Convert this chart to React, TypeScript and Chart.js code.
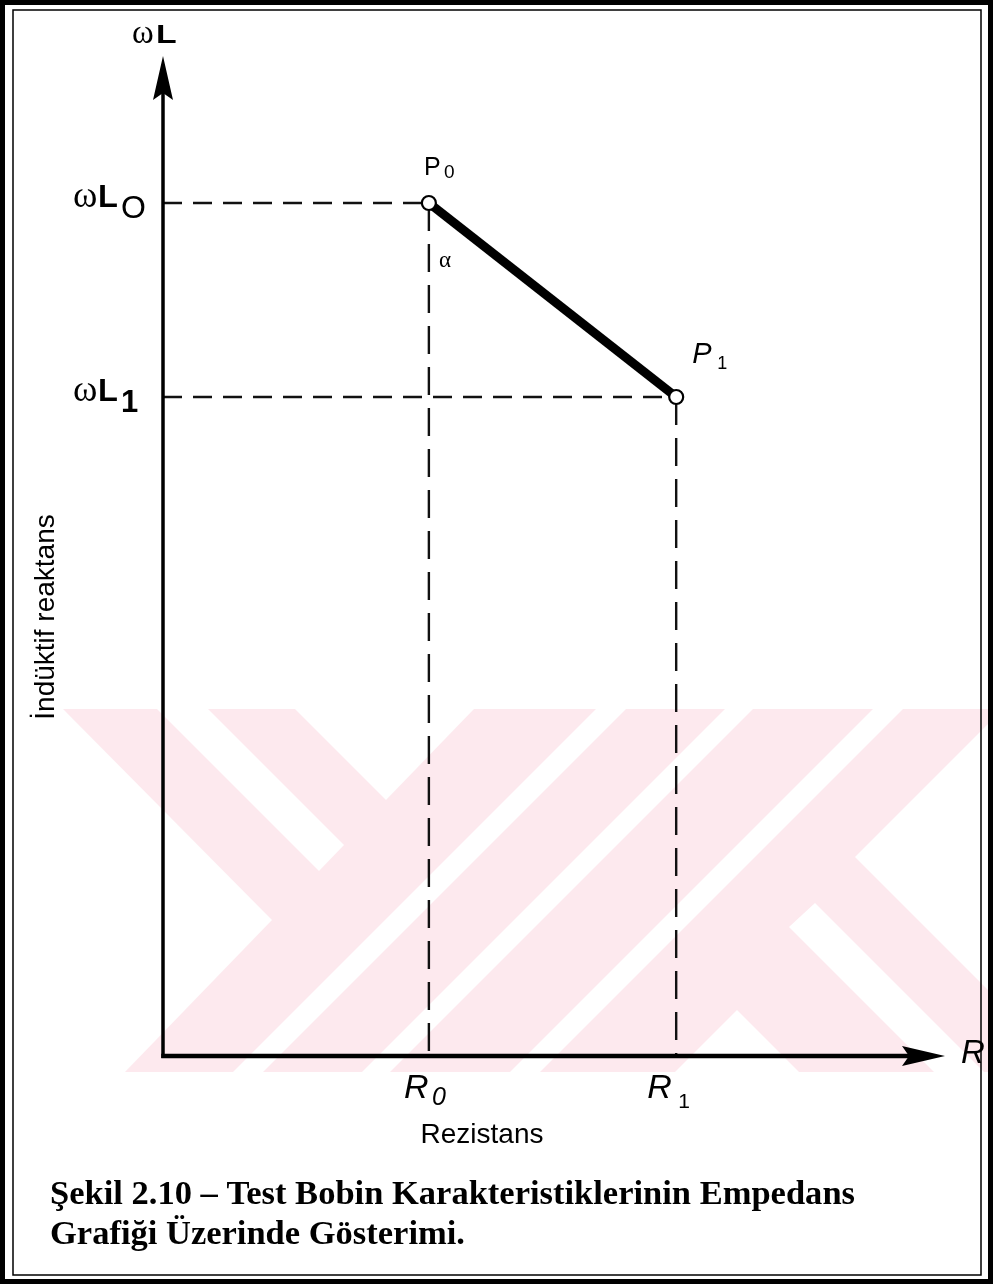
import React, { useEffect, useRef } from "react";
import { Chart, registerables } from "chart.js";

Chart.register(...registerables);

// ---- data ----
const resistance = [2.72, 5.25]; // R0, R1
const reactance = [8.53, 6.59]; // ωL0, ωL1
const resistanceSub = ["0", "1"];
const reactanceSub = ["O", "1"];
const pointSub = ["0", "1"];
const xMax = 8;
const yMax = 10;

const yAxisSymbolW = "ω";
const yAxisSymbolL = "L";
const xAxisSymbol = "R";
const xAxisTitle = "Rezistans";
const yAxisTitle = "İndüktif reaktans";
const alphaLabel = "α";
const captionLines = [
  "Şekil 2.10 – Test Bobin Karakteristiklerinin Empedans",
  "Grafiği Üzerinde Gösterimi.",
];

const SANS = '"Liberation Sans", Arial, Helvetica, sans-serif';
const SERIF = '"Liberation Serif", "Times New Roman", serif';

// decorative watermark (pale background logo), drawn as white gaps over a pink band
const WM_TOP = 709;
const WM_BOTTOM = 1072;
const WATERMARK_GAPS: number[][][] = [
  [[0, 709], [63, 709], [272, 920], [125, 1072], [0, 1072]],
  [[157, 709], [208, 709], [344, 845], [319, 871]],
  [[295, 709], [474, 709], [386, 800]],
  [[233, 1072], [263, 1072], [626, 709], [596, 709]],
  [[362, 1072], [390, 1072], [753, 709], [725, 709]],
  [[510, 1072], [540, 1072], [903, 709], [873, 709]],
  [[855, 857], [1010, 702], [1010, 1012]],
  [[789, 927], [815, 903], [1000, 1088], [974, 1112]],
  [[737, 1010], [675, 1072], [799, 1072]],
];

function txt(ctx: CanvasRenderingContext2D, s: string, x: number, y: number, font: string, align: CanvasTextAlign = "left") {
  ctx.font = font;
  ctx.textAlign = align;
  ctx.textBaseline = "alphabetic";
  ctx.fillText(s, x, y);
}

function wideTxt(ctx: CanvasRenderingContext2D, s: string, x: number, y: number, font: string, sx: number) {
  ctx.save();
  ctx.translate(x, y);
  ctx.scale(sx, 1);
  txt(ctx, s, 0, 0, font);
  ctx.restore();
}

const decorPlugin = {
  id: "impedanceDecor",
  beforeDraw(chart: any) {
    const ctx: CanvasRenderingContext2D = chart.ctx;
    ctx.save();
    ctx.fillStyle = "#ffffff";
    ctx.fillRect(0, 0, chart.width, chart.height);
    ctx.beginPath();
    ctx.rect(0, WM_TOP, chart.width, WM_BOTTOM - WM_TOP);
    ctx.clip();
    ctx.fillStyle = "#fde9ee";
    ctx.fillRect(0, WM_TOP, chart.width, WM_BOTTOM - WM_TOP);
    ctx.fillStyle = "#ffffff";
    for (const poly of WATERMARK_GAPS) {
      ctx.beginPath();
      poly.forEach(([x, y], i) => (i ? ctx.lineTo(x, y) : ctx.moveTo(x, y)));
      ctx.closePath();
      ctx.fill();
    }
    ctx.restore();
  },
  afterDatasetsDraw(chart: any) {
    const ctx: CanvasRenderingContext2D = chart.ctx;
    const xs = chart.scales.x;
    const ys = chart.scales.y;
    const x0 = xs.getPixelForValue(0);
    const y0 = ys.getPixelForValue(0);
    const xEnd = xs.getPixelForValue(xMax);
    const yEnd = ys.getPixelForValue(yMax);
    ctx.save();
    ctx.strokeStyle = "#000";
    ctx.fillStyle = "#000";
    ctx.lineCap = "butt";
    // axes
    ctx.lineWidth = 3.5;
    ctx.beginPath();
    ctx.moveTo(x0, y0 + 2);
    ctx.lineTo(x0, yEnd + 30);
    ctx.stroke();
    ctx.lineWidth = 4.5;
    ctx.beginPath();
    ctx.moveTo(x0 - 1.75, y0);
    ctx.lineTo(xEnd - 30, y0);
    ctx.stroke();
    // arrowheads
    ctx.beginPath();
    ctx.moveTo(x0, yEnd);
    ctx.lineTo(x0 + 10, yEnd + 44);
    ctx.lineTo(x0, yEnd + 37);
    ctx.lineTo(x0 - 10, yEnd + 44);
    ctx.closePath();
    ctx.fill();
    ctx.beginPath();
    ctx.moveTo(xEnd, y0);
    ctx.lineTo(xEnd - 43, y0 - 10);
    ctx.lineTo(xEnd - 36, y0);
    ctx.lineTo(xEnd - 43, y0 + 10);
    ctx.closePath();
    ctx.fill();

    // axis symbols
    txt(ctx, yAxisSymbolW, x0 - 31, yEnd - 13, `33px ${SERIF}`);
    wideTxt(ctx, yAxisSymbolL, x0 - 7, yEnd - 13, `bold 26px ${SANS}`, 1.3);
    txt(ctx, xAxisSymbol, xEnd + 16, y0 + 7, `italic 33px ${SANS}`);

    // reactance labels
    reactance.forEach((v, i) => {
      const y = ys.getPixelForValue(v);
      txt(ctx, yAxisSymbolW, x0 - 90, y + 4, `37px ${SERIF}`);
      wideTxt(ctx, yAxisSymbolL, x0 - 65, y + 4, `bold 31px ${SANS}`, 1.05);
      txt(ctx, reactanceSub[i], x0 - 42, y + 15, i === 0 ? `32px ${SANS}` : `bold 31px ${SANS}`);
    });

    // resistance labels
    resistance.forEach((v, i) => {
      const x = xs.getPixelForValue(v);
      txt(ctx, xAxisSymbol, x - (i === 0 ? 25 : 29), y0 + 42, `italic 34px ${SANS}`);
      txt(ctx, resistanceSub[i], x + (i === 0 ? 3 : 2), y0 + (i === 0 ? 49 : 52), i === 0 ? `italic 25px ${SANS}` : `21px ${SANS}`);
    });

    // point labels
    const p0x = xs.getPixelForValue(resistance[0]);
    const p0y = ys.getPixelForValue(reactance[0]);
    const p1x = xs.getPixelForValue(resistance[1]);
    const p1y = ys.getPixelForValue(reactance[1]);
    txt(ctx, "P", p0x - 5, p0y - 28, `25px ${SANS}`);
    txt(ctx, pointSub[0], p0x + 15, p0y - 25, `19px ${SANS}`);
    txt(ctx, "P", p1x + 16, p1y - 34, `italic 29px ${SANS}`);
    txt(ctx, pointSub[1], p1x + 41, p1y - 28, `18px ${SANS}`);
    txt(ctx, alphaLabel, p0x + 10, p0y + 64, `23px ${SERIF}`);

    // axis titles
    txt(ctx, xAxisTitle, 482, y0 + 87, `28px ${SANS}`, "center");
    ctx.save();
    ctx.translate(54, 617);
    ctx.rotate(-Math.PI / 2);
    txt(ctx, yAxisTitle, 0, 0, `28px ${SANS}`, "center");
    ctx.restore();
    ctx.restore();
  },
  afterDraw(chart: any) {
    const ctx: CanvasRenderingContext2D = chart.ctx;
    ctx.save();
    ctx.fillStyle = "#000";
    const capFont = `bold 34px ${SERIF}`;
    ctx.font = capFont;
    const w1 = ctx.measureText(captionLines[0]).width;
    const sx = 805 / w1;
    wideTxt(ctx, captionLines[0], 50, 1204, capFont, sx);
    wideTxt(ctx, captionLines[1], 50, 1244, capFont, sx);
    // frame
    ctx.strokeStyle = "#000";
    ctx.lineWidth = 5;
    ctx.strokeRect(2.5, 2.5, chart.width - 5, chart.height - 5);
    ctx.lineWidth = 1.5;
    ctx.strokeRect(13, 10, chart.width - 25, chart.height - 19);
    ctx.restore();
  },
};

export default function App() {
  const ref = useRef<HTMLCanvasElement>(null);
  useEffect(() => {
    const guideH = reactance.map((v, i) => ({
      data: [{ x: 0, y: v }, { x: resistance[i], y: v }],
      showLine: true,
      borderColor: "#111",
      borderWidth: 2.4,
      borderDash: [19, 11],
      pointRadius: 0,
      order: 2,
      clip: false,
    }));
    const guideV = resistance.map((v, i) => ({
      data: [{ x: v, y: reactance[i] }, { x: v, y: 0 }],
      showLine: true,
      borderColor: "#111",
      borderWidth: 2.4,
      borderDash: [28, 13],
      pointRadius: 0,
      order: 2,
      clip: false,
    }));
    const chart = new Chart(ref.current!, {
      type: "scatter",
      data: {
        datasets: [
          {
            data: resistance.map((r, i) => ({ x: r, y: reactance[i] })),
            showLine: true,
            borderColor: "#000",
            borderWidth: 9,
            borderCapStyle: "butt",
            pointRadius: 7,
            pointBorderWidth: 2.2,
            pointBackgroundColor: "#fff",
            pointBorderColor: "#000",
            order: 0,
            clip: false,
          } as any,
          ...(guideH as any[]),
          ...(guideV as any[]),
        ],
      },
      options: {
        responsive: false,
        animation: false,
        events: [],
        layout: { padding: { left: 163, right: 48, top: 56, bottom: 228 } },
        scales: {
          x: { type: "linear", min: 0, max: xMax, display: false },
          y: { type: "linear", min: 0, max: yMax, display: false },
        },
        plugins: {
          legend: { display: false },
          tooltip: { enabled: false },
          title: { display: false },
        },
      },
      plugins: [decorPlugin],
    });
    return () => chart.destroy();
  }, []);
  return (
    <div style={{ position: "fixed", left: 0, top: 0, width: 993, height: 1284, background: "#fff" }}>
      <canvas ref={ref} width={993} height={1284} style={{ display: "block", width: 993, height: 1284 }} />
    </div>
  );
}
